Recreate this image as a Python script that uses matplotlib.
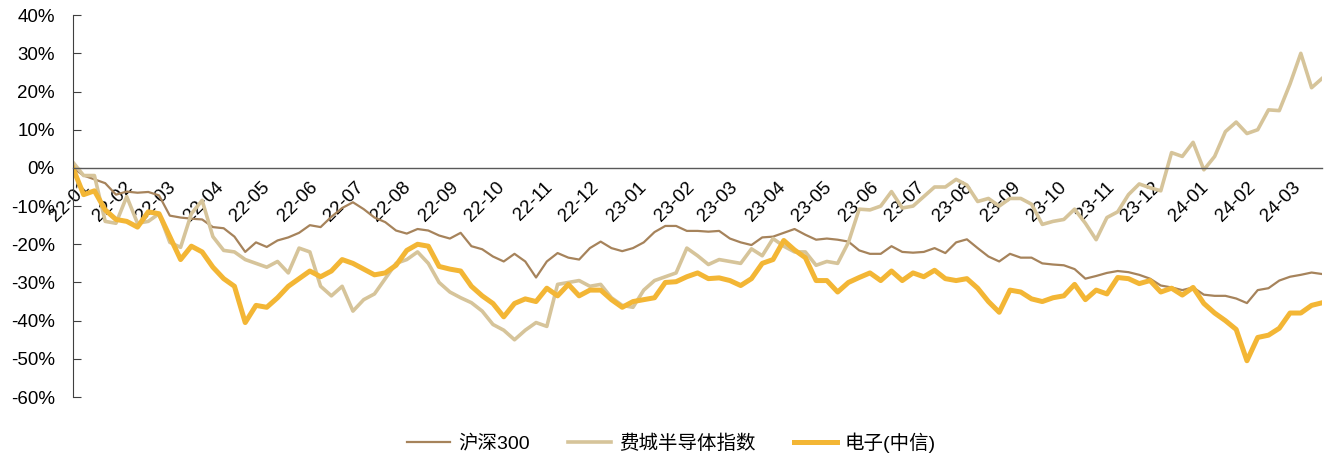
"""沪深300、费城半导体指数与电子(中信)累计涨跌幅走势。"""

import numpy as np
import pandas as pd
from matplotlib import pyplot as plt
from matplotlib import transforms
from matplotlib.ticker import PercentFormatter

plt.rcParams['font.family'] = ['Liberation Sans', 'Noto Sans CJK SC', 'DejaVu Sans']
plt.rcParams['axes.unicode_minus'] = False
plt.rcParams['font.size'] = 13.5

# 周度采样，2022-01-04 起
dates = pd.date_range('2022-01-04', periods=117, freq='7D')

# 沪深300 累计涨跌幅(%)
hs300 = [0, -2, -3, -4, -7, -6.2, -6.5, -6.3, -7.2, -12.5,
         -13, -13.3, -13.5, -15.5, -15.8, -18, -22, -19.5, -20.7, -19,
         -18.2, -17, -15, -15.5, -12.8, -10.5, -9, -10.8, -13, -14.2,
         -16.4, -17.2, -16, -16.4, -17.7, -18.5, -17, -20.5, -21.3, -23.2,
         -24.5, -22.5, -24.5, -28.7, -24.5, -22.3, -23.5, -24, -21, -19.3,
         -21, -21.8, -21, -19.5, -16.8, -15.2, -15.2, -16.5, -16.5, -16.7,
         -16.5, -18.5, -19.5, -20.2, -18.2, -18, -17, -16, -17.5, -18.8,
         -18.5, -18.8, -19.3, -21.6, -22.5, -22.5, -20.5, -22, -22.2, -22,
         -21, -22.3, -19.5, -18.7, -21, -23.2, -24.5, -22.5, -23.5, -23.5,
         -25, -25.3, -25.5, -26.5, -29, -28.3, -27.5, -27, -27.3, -28,
         -29, -30.8, -31.3, -32, -31.3, -33.2, -33.5, -33.5, -34.2, -35.4,
         -32, -31.5, -29.5, -28.5, -28, -27.4, -27.8]

# 费城半导体指数 累计涨跌幅(%)
sox = [1.5, -2, -2, -14, -14.5, -7.5, -14.5, -14, -12, -19.5,
       -20.8, -12, -8.5, -18, -21.6, -22, -24, -25, -26, -24.5,
       -27.5, -21, -22, -31, -33.5, -31, -37.5, -34.5, -33, -29,
       -25, -24, -22, -25, -30, -32.5, -34, -35.3, -37.5, -41,
       -42.5, -45, -42.5, -40.5, -41.5, -30.5, -30, -29.5, -31, -30.5,
       -34, -36, -36.5, -32, -29.5, -28.5, -27.5, -21, -23, -25.3,
       -24, -24.5, -25, -21.2, -23, -18.5, -20.5, -22, -22, -25.5,
       -24.5, -25, -19.5, -10.8, -11, -10, -6.2, -10.5, -10, -7.5,
       -5, -5, -3, -4.5, -8.8, -8, -10, -8, -8, -9.5,
       -14.8, -14, -13.5, -10.8, -14.5, -18.8, -13, -11.5, -7, -4.2,
       -5.2, -6, 4, 3, 6.7, -0.5, 3, 9.5, 12, 9,
       10, 15.2, 15, 22, 30, 21, 23.5]

# 电子(中信) 累计涨跌幅(%)
elec = [0, -7, -6, -11, -13.5, -14, -15.5, -11.5, -12, -18,
        -24, -20.5, -22, -26, -29, -31, -40.5, -36, -36.5, -34,
        -31, -29, -27, -28.5, -27, -24, -25, -26.5, -28, -27.5,
        -25.5, -21.6, -20, -20.5, -25.8, -26.5, -27, -31, -33.5, -35.5,
        -39, -35.5, -34.3, -35, -31.5, -33.5, -30.5, -33.5, -32, -32,
        -34.5, -36.5, -35, -34.5, -34, -30, -29.8, -28.5, -27.5, -29,
        -28.8, -29.5, -30.8, -29, -25, -24, -19, -21.5, -23.5, -29.5,
        -29.5, -32.5, -30, -28.7, -27.5, -29.5, -27, -29.5, -27.5, -28.5,
        -26.8, -29, -29.5, -29, -31.5, -35, -37.8, -32, -32.5, -34.3,
        -35, -34, -33.5, -30.5, -34.5, -32, -33, -28.7, -29, -30.3,
        -29.5, -32.5, -31.5, -33.3, -31.3, -35.5, -38, -40, -42.3, -50.5,
        -44.4, -43.8, -42, -38, -38, -36, -35.3]

labels = ['沪深300', '费城半导体指数', '电子(中信)']
colors = ['#A6835B', '#D6C49A', '#F3B635']
widths = [1.6, 2.6, 3.6]

fig, ax = plt.subplots(figsize=(13.25, 4.59), dpi=100)
fig.subplots_adjust(left=0.055, right=0.998, top=0.967, bottom=0.135)

for vals, lab, c, lw in zip([hs300, sox, elec], labels, colors, widths):
    ax.plot(dates, vals, color=c, lw=lw, label=lab)

ax.set_ylim(-60, 40)
ax.set_yticks(np.arange(-60, 41, 10))
ax.yaxis.set_major_formatter(PercentFormatter(decimals=0))
ax.set_xlim(dates[0], dates[-1])

# 月度刻度，首个刻度落在起始日
ticks = [dates[0]] + list(pd.date_range('2022-02-01', '2024-03-01', freq='MS'))
ax.set_xticks(ticks)
ax.set_xticklabels([t.strftime('%y-%m') for t in ticks])

ax.spines['top'].set_visible(False)
ax.spines['right'].set_visible(False)
ax.spines['bottom'].set_position(('data', 0))
ax.spines['bottom'].set_color('#595959')
ax.spines['bottom'].set_linewidth(1.0)
ax.spines['left'].set_color('#404040')
ax.spines['left'].set_linewidth(0.8)
ax.tick_params(axis='x', length=0, pad=8)
ax.tick_params(axis='y', direction='in', length=6, width=0.8,
               color='#404040', pad=13)

ax.legend(loc='center', bbox_to_anchor=(0.507, 0.036),
          bbox_transform=fig.transFigure, ncol=3, frameon=False,
          fontsize=14, handlelength=2.2, columnspacing=2.0,
          handletextpad=0.4)

# 斜排月份标签，整体略向右错开
shift = transforms.ScaledTranslation(8 / 100, 0, fig.dpi_scale_trans)
for lbl in ax.get_xticklabels():
    lbl.set(rotation=45, ha='right', va='top', rotation_mode='anchor')
    lbl.set_transform(lbl.get_transform() + shift)

plt.savefig('out.png', dpi=100)
